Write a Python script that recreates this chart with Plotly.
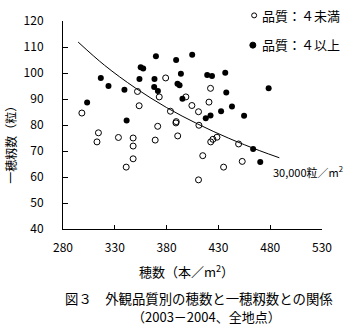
import plotly.graph_objects as go

# 品質：4未満 (open circles)
open_x = [298.2, 314.2, 312.8, 333.5, 347.7, 347.7, 347.7, 341.0, 351.9, 353.5, 369.0, 371.4,
          372.9, 379.1, 383.7, 389.3, 389.0, 390.7, 398.6, 404.4, 410.8, 411.2, 414.9, 410.8,
          420.9, 422.4, 422.6, 424.7, 428.6, 435.0, 449.5, 453.0]
open_y = [84.6, 77.0, 73.5, 75.2, 75.0, 71.9, 67.0, 63.8, 92.9, 87.4, 74.2, 79.5,
          90.8, 98.1, 85.3, 81.3, 80.8, 75.8, 90.8, 87.5, 85.1, 79.9, 68.2, 58.9,
          88.8, 94.1, 73.5, 74.5, 75.3, 63.8, 72.7, 66.0]

# 品質：4以上 (filled circles)
fill_x = [303.3, 316.5, 323.9, 339.3, 341.4, 353.8, 355.0, 357.4, 368.3, 368.0, 371.6, 369.7,
          389.2, 390.5, 392.5, 393.8, 395.3, 404.7, 419.2, 423.8, 436.6, 437.6, 417.8, 422.4,
          432.6, 443.1, 454.8, 463.5, 470.4, 478.5]
fill_y = [88.7, 98.1, 95.0, 93.6, 81.7, 97.7, 102.2, 101.7, 97.7, 94.6, 93.1, 106.4,
          105.0, 95.9, 95.3, 99.7, 90.1, 107.0, 99.2, 98.8, 100.1, 92.5, 82.6, 83.7,
          85.3, 87.1, 83.6, 70.8, 65.8, 94.1]

# 30,000粒/m2 iso-line
iso_x = [294.6, 320, 350, 380, 410, 440, 470, 488.8]
iso_y = [111.9, 103.0, 94.2, 86.7, 80.4, 74.9, 70.1, 67.4]

x_ticks = [280, 330, 380, 430, 480, 530]
y_ticks = [40, 50, 60, 70, 80, 90, 100, 110, 120]

FONT = "Noto Sans CJK JP"

fig = go.Figure()
fig.add_trace(go.Scatter(x=iso_x, y=iso_y, mode="lines", line=dict(color="black", width=1, shape="spline"),
                         showlegend=False, hoverinfo="skip"))
fig.add_trace(go.Scatter(x=open_x, y=open_y, mode="markers",
                         marker=dict(symbol="circle-open", size=6, color="black", line=dict(width=1)),
                         showlegend=False))
fig.add_trace(go.Scatter(x=fill_x, y=fill_y, mode="markers",
                         marker=dict(symbol="circle", size=6, color="black"),
                         showlegend=False))

fig.update_layout(
    width=351, height=328,
    margin=dict(l=63, r=29, t=21, b=99),
    paper_bgcolor="white", plot_bgcolor="white",
    font=dict(family=FONT, size=12, color="black"),
    showlegend=False,
)
fig.update_xaxes(range=[280, 530], tickvals=x_ticks, ticktext=[str(v) for v in x_ticks],
                 showline=True, linecolor="black", linewidth=1, ticks="inside", ticklen=4,
                 tickcolor="black", showgrid=False, zeroline=False, ticklabelstandoff=8,
                 tickfont=dict(family=FONT, size=12))
fig.update_yaxes(range=[40, 120], tickvals=y_ticks, ticktext=[str(v) for v in y_ticks],
                 showline=True, linecolor="black", linewidth=1, ticks="inside", ticklen=5,
                 tickcolor="black", showgrid=False, zeroline=False, ticklabelstandoff=16,
                 tickfont=dict(family=FONT, size=12))

ann = [
    dict(text="一穂籾数（粒）", x=-0.204, y=0.42, textangle=-90, size=12),
    dict(text="穂数（本／m<sup>2</sup>）", x=0.478, y=-0.2005, size=13),
    dict(text="図３　外観品質別の穂数と一穂籾数との関係", x=0.5236, y=-0.330, size=13.4),
    dict(text="（2003－2004、全地点）", x=0.5556, y=-0.420, size=13),
    dict(text="30,000粒／m<sup>2</sup>", x=0.804, y=0.2755, xanchor="left", size=11),
    dict(text="品質：４未満", x=0.762, y=1.0255, xanchor="left", size=13),
    dict(text="品質：４以上", x=0.762, y=0.886, xanchor="left", size=13),
]
for a in ann:
    a.setdefault("xanchor", "center")
    size = a.pop("size")
    fig.add_annotation(xref="paper", yref="paper", showarrow=False, yanchor="middle",
                       font=dict(family=FONT, color="black", size=size), **a)

# legend symbols
fig.add_shape(type="circle", xref="paper", yref="paper", xsizemode="pixel", ysizemode="pixel",
              xanchor=0.738, yanchor=1.027, x0=-2.5, x1=2.5, y0=-2.5, y1=2.5,
              line=dict(color="black", width=1), fillcolor="white")
fig.add_shape(type="circle", xref="paper", yref="paper", xsizemode="pixel", ysizemode="pixel",
              xanchor=0.733, yanchor=0.884, x0=-3, x1=3, y0=-3, y1=3,
              line=dict(color="black", width=1), fillcolor="black")

fig.write_html("out.html")
